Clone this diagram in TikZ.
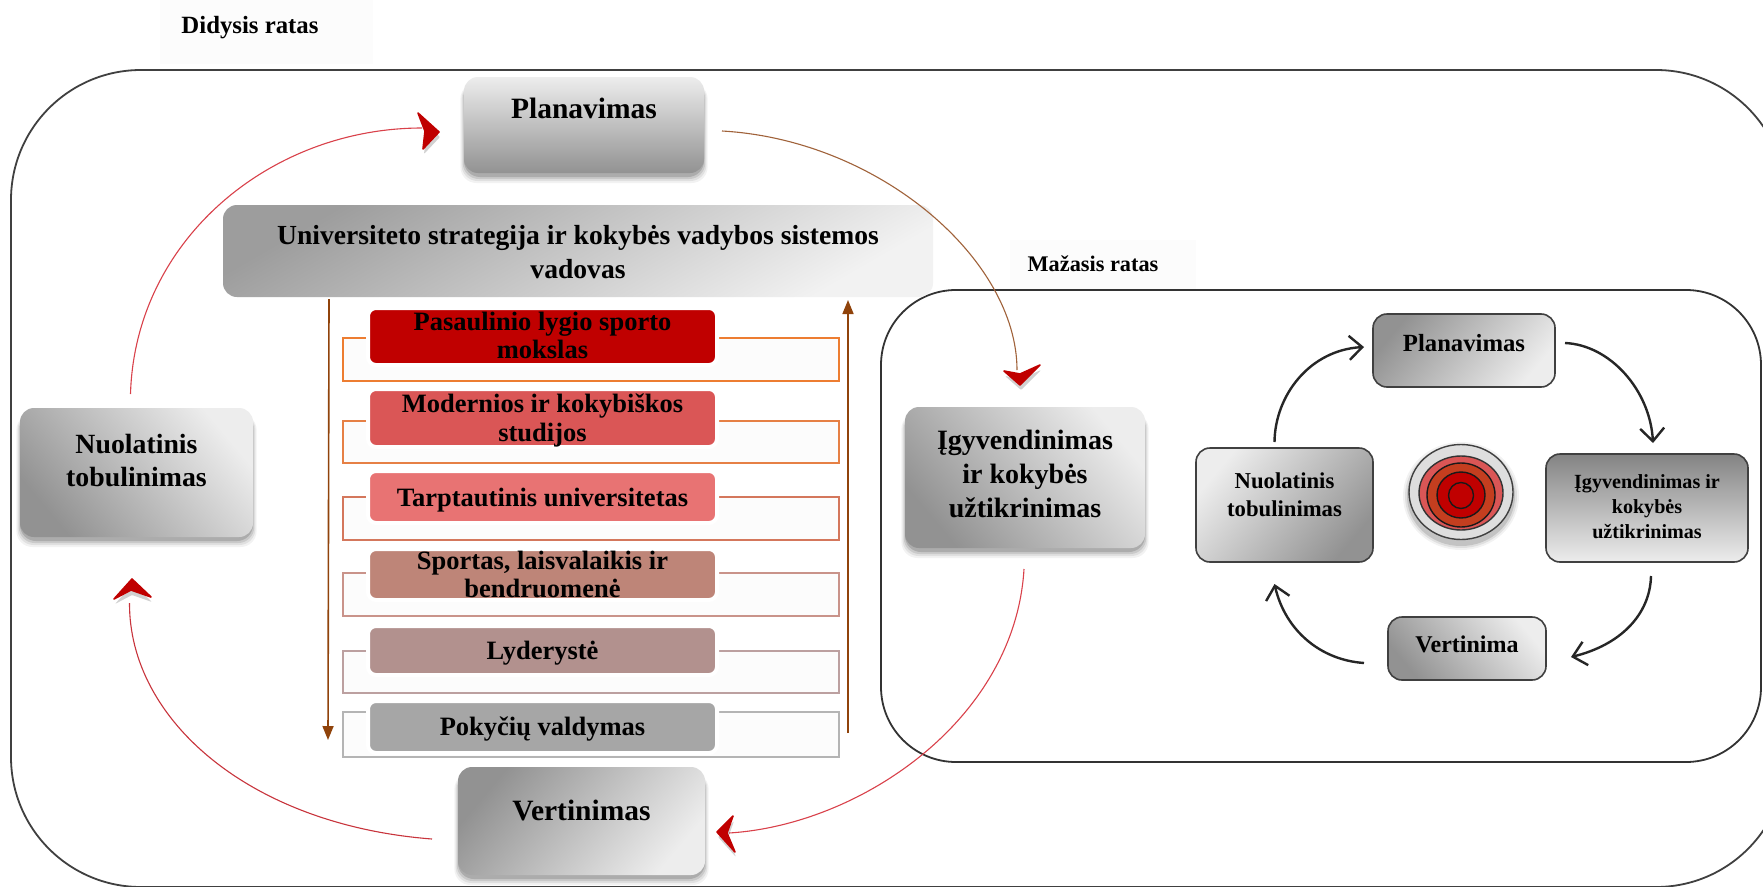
\documentclass[tikz,border=0pt]{standalone}
\usepackage{fontspec}
\setmainfont{Liberation Serif}
\usetikzlibrary{calc,arrows.meta}
\definecolor{brownline}{HTML}{843C0C}
\definecolor{browncurve}{HTML}{A0623A}
\definecolor{redline}{HTML}{D9414A}
\definecolor{redlineB}{HTML}{C8343C}
\definecolor{chev}{HTML}{C00000}
\definecolor{gD}{HTML}{929292}
\definecolor{gL}{HTML}{EDEDED}
\definecolor{itemA}{HTML}{C00000}
\definecolor{itemB}{HTML}{DA5656}
\definecolor{itemC}{HTML}{E87373}
\definecolor{itemD}{HTML}{BE8578}
\definecolor{itemE}{HTML}{B2918E}
\definecolor{itemF}{HTML}{A6A6A6}
\definecolor{itemR}{HTML}{C43E1F}
\definecolor{lineA}{HTML}{ED7D31}
\definecolor{lineB}{HTML}{E68045}
\definecolor{lineC}{HTML}{D4775C}
\definecolor{lineD}{HTML}{C9938A}
\definecolor{lineE}{HTML}{BCA0A0}
\definecolor{lineF}{HTML}{B4B4B4}
\newcommand{\fs}[2]{\fontsize{#1}{#2}\selectfont\bfseries}
\tikzset{
  txt/.style={align=center,inner sep=0pt,text=black},
  listbox/.style={rounded corners=8pt,draw=white,line width=4pt,text=black},
  outl/.style={draw=#1,line width=2pt,fill=black!1},
  bigarrow/.style={line width=1.1pt},
  cyc/.style={draw=black!85,line width=2.4pt,-{Straight Barb[length=13pt,width=24pt,line width=2.4pt]}},
  softbox/.style={rounded corners=14pt},
  sbox/.style={draw=black!75,line width=1.6pt,rounded corners=14pt},
  gTB/.style={top color=gL,bottom color=gD},
  gBT/.style={top color=gD!90!black,bottom color=gL},
  gTLBR/.style={left color=gD,right color=gL,shading angle=50},
  gBLTR/.style={left color=gD,right color=gL,shading angle=130},
}
\newcommand{\softshadow}[4]{%
  \foreach \sg/\so in {6/.05,4/.07,2/.10,0/.14}{%
    \fill[black,opacity=\so,rounded corners=16pt] (#1-\sg*0.6,#2+6) rectangle (#3+\sg*0.6,#4+4+\sg);}%
}
% name, x1,y1,x2,y2, style, dy, font, lines
\newcommand{\bx}[9]{%
  \node[#6,inner sep=0pt,outer sep=0pt,minimum width={(#4-#2)*1pt},minimum height={(#5-#3)*1pt}] (#1) at ({(#2+#4)/2},{(#3+#5)/2})
   {\raisebox{#7pt}[0pt][0pt]{#8\begin{tabular}[c]{@{}c@{}}#9\end{tabular}}};}
\newcommand{\chevron}[8]{%
  \fill[black,opacity=.18,rounded corners=1pt] (#1+1,#2+5) -- (#3+1,#4+5) -- (#5+1,#6+5) -- (#7+1,#8+5) -- cycle;
  \filldraw[chev,line width=1.6pt,line join=round] (#1,#2) -- (#3,#4) -- (#5,#6) -- (#7,#8) -- cycle;}
\begin{document}
\begin{tikzpicture}[x=1pt,y=-1pt]
\useasboundingbox (0,0) rectangle (1763,886);
\clip (0,0) rectangle (1763,886);
\fill[white] (0,0) rectangle (1763,886);
% label patches
\fill[black!1] (160,0) rectangle (373,64);
\fill[black!1] (1010,240) rectangle (1196,290);
% frames
\draw[black!75,line width=1.8pt,rounded corners=130pt] (11,70) rectangle (1786,887);
\draw[black!80,line width=1.8pt,rounded corners=75pt] (881,290) rectangle (1761,762);
\node[txt,font=\fs{24.8}{28}] (lblbig) at (250,28) {Didysis ratas};
\node[txt,font=\fs{22.3}{26}] (lblsmall) at (1093,264) {Mažasis ratas};

% list outlines
\draw[outl=lineA] (343,338) rectangle (839,381);
\draw[outl=lineB] (343,421) rectangle (839,463);
\draw[outl=lineC] (343,497) rectangle (839,540);
\draw[outl=lineD] (343,573) rectangle (839,616);
\draw[outl=lineE] (343,651) rectangle (839,693);
\draw[outl=lineF] (343,712) rectangle (839,757);
% list items
\bx{itA}{368}{308}{717}{365}{listbox,fill=itemA}{-9}{\fs{26.5}{28}}{Pasaulinio lygio sporto\\mokslas}
\bx{itB}{368}{389}{717}{447}{listbox,fill=itemB}{-9}{\fs{26.5}{29}}{Modernios ir kokybiškos\\studijos}
\bx{itC}{368}{471}{717}{523}{listbox,fill=itemC}{-10}{\fs{26.5}{28}}{Tarptautinis universitetas}
\bx{itD}{368}{549}{717}{600}{listbox,fill=itemD}{-10}{\fs{26.5}{28}}{Sportas, laisvalaikis ir\\bendruomenė}
\bx{itE}{368}{626}{717}{675}{listbox,fill=itemE}{-10}{\fs{26.5}{28}}{Lyderystė}
\bx{itF}{368}{701}{717}{753}{listbox,fill=itemF}{-9}{\fs{26.5}{28}}{Pokyčių valdymas}

% large process boxes
\softshadow{464}{77}{704}{173}
\bx{planB}{464}{77}{704}{173}{softbox,gTB}{7}{\fs{29.5}{33}}{Planavimas}
\bx{uni}{223}{205}{933}{297}{softbox,left color=gD!90!white,right color=gL!70!white,shading angle=30}{-10}{\fs{27.6}{34}}{Universiteto strategija ir kokybės vadybos sistemos\\vadovas}
\softshadow{20}{408}{253}{537}
\bx{nuoB}{20}{408}{253}{537}{softbox,gBLTR}{3}{\fs{27.8}{33}}{Nuolatinis\\tobulinimas}
\softshadow{905}{407}{1145}{548}
\bx{igyB}{905}{407}{1145}{548}{softbox,gBLTR}{-5}{\fs{28}{34}}{Įgyvendinimas\\ir kokybės\\užtikrinimas}
\softshadow{458}{767}{705}{875}
\bx{verB}{458}{767}{705}{875}{softbox,gTLBR}{1}{\fs{29.5}{33}}{Vertinimas}

% small cycle boxes
\bx{planS}{1373}{314}{1555}{387}{sbox,gTLBR}{-2}{\fs{24.7}{28}}{Planavimas}
\bx{igyS}{1546}{454}{1748}{562}{sbox,gBT}{-6}{\fs{20.1}{25}}{Įgyvendinimas ir\\kokybės\\užtikrinimas}
\bx{verS}{1388}{617}{1546}{680}{sbox,gBLTR}{-5}{\fs{24}{28}}{Vertinima}
\bx{nuoS}{1196}{448}{1373}{562}{sbox,left color=gL,right color=gD,shading angle=50}{3}{\fs{22.7}{28}}{Nuolatinis\\tobulinimas}

% target
\foreach \sg/\so in {6/.05,4/.08,2/.12}{\fill[black,opacity=\so] (1461,496) ellipse ({52+\sg} and {48+\sg});}
\draw[black!75,line width=1.4pt,fill=black!13] (1461,492) ellipse (52 and 47.5);
\draw[black!80,line width=1.4pt,fill=itemB] (1461,493) ellipse (42 and 37);
\draw[black!90,line width=1.4pt,fill=itemR] (1461,495) ellipse (34 and 32);
\draw[black!90,line width=1.4pt,fill=chev] (1461,495) ellipse (24 and 23);
\draw[black!90,line width=1.4pt,fill=chev] (1461,495.5) ellipse (12.5 and 13);

% ends of the large curves
\coordinate (a1) at ($(nuoB.north)+(-6,-14)$);
\coordinate (a2) at ($(planB.west)+(-42,3)$);
\coordinate (b1) at ($(planB.east)+(18,6)$);
\coordinate (b2) at ($(igyB.north)+(-8,-37)$);
\coordinate (c1) at ($(igyB.south)+(-1,21)$);
\coordinate (c2) at ($(verB.east)+(24,12)$);
\coordinate (d1) at ($(verB.west)+(-26,18)$);
\coordinate (d2) at ($(nuoB.south)+(-7,66)$);
\draw[redline,bigarrow] (a1) .. controls (135,240) and (270,128) .. (a2);
\draw[browncurve,bigarrow] (b1) .. controls (880,140) and (1017,260) .. (b2);
\draw[redline,bigarrow] (c1) .. controls (1015,720) and (860,825) .. (c2);
\draw[redlineB,bigarrow] (d1) .. controls (250,825) and (129,720) .. (d2);
\chevron{439}{132}{418}{113}{425}{131}{423}{149}
\chevron{1020}{385}{1004}{371}{1020}{374}{1040}{365}
\chevron{717}{832}{733}{816}{727}{833}{735}{852}
\chevron{132}{579}{114}{599}{131}{590}{151}{597}

% brown list arrows
\coordinate (e1) at ($(uni.south west)+(106,2)$);
\coordinate (e2) at ($(itF.south west)+(-40,-13)$);
\coordinate (f1) at ($(itF.south east)+(131,-20)$);
\coordinate (f2) at ($(uni.south west)+(625,3)$);
\draw[brownline!90!orange,line width=1.6pt,-{Triangle[length=14pt,width=11pt]}] (e1) -- (e2);
\draw[brownline!90!orange,line width=1.6pt,-{Triangle[length=14pt,width=11pt]}] (f1) -- (f2);

% cycle arrows
\coordinate (s1) at ($(nuoS.north)+(-10,-6)$);
\coordinate (s2) at ($(planS.west)+(-9,-3.5)$);
\coordinate (s3) at ($(planS.east)+(10,-7.5)$);
\coordinate (s4) at ($(igyS.north)+(6,-11)$);
\coordinate (s5) at ($(igyS.south)+(4,14)$);
\coordinate (s6) at ($(verS.east)+(25,8.5)$);
\coordinate (s7) at ($(verS.west)+(-24,14.5)$);
\coordinate (s8) at ($(nuoS.south)+(-10,22)$);
\draw[cyc] (s1) .. controls (1275,395) and (1310,350) .. (s2);
\draw[cyc] (s3) .. controls (1610,345) and (1650,390) .. (s4);
\draw[cyc] (s5) .. controls (1650,615) and (1620,645) .. (s6);
\draw[cyc] (s7) .. controls (1320,660) and (1285,630) .. (s8);
\end{tikzpicture}
\end{document}
